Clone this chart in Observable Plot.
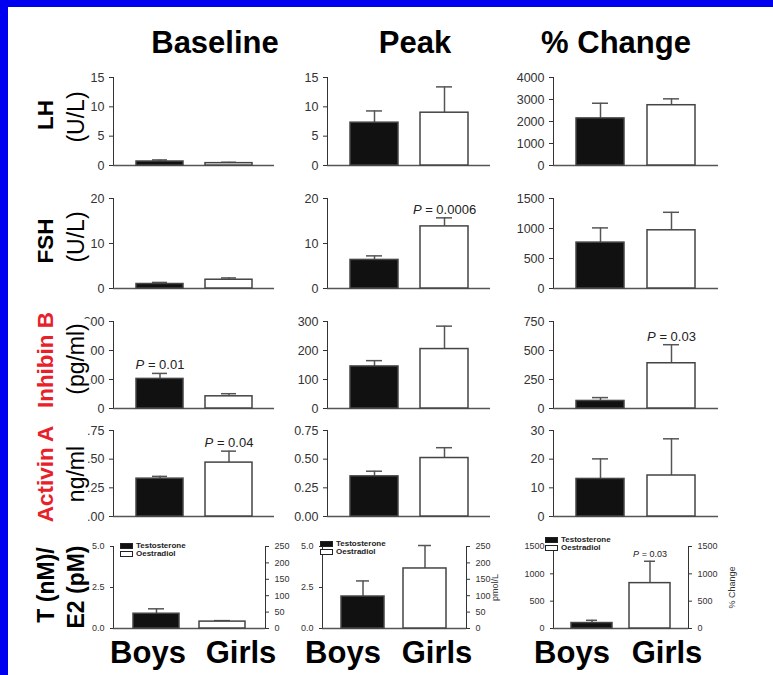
<!DOCTYPE html>
<html><head><meta charset="utf-8">
<script src="https://cdn.jsdelivr.net/npm/d3@7"></script>
<script src="https://cdn.jsdelivr.net/npm/@observablehq/plot@0.6"></script>
<style>
body{margin:0;background:#fff;}
#root{position:relative;width:773px;height:675px;overflow:hidden;background:#fff;font-family:"Liberation Sans",Arial,Helvetica,sans-serif;color:#000;}
.abs{position:absolute;white-space:nowrap;line-height:1;}
.rot{transform:translate(-50%,-50%) rotate(-90deg);}
.ctr{transform:translate(-50%,-50%);}
</style></head><body><div id="root"></div>
<script>
// ---------- data ----------
const groups = ["Boys", "Girls"];
const phases = ["Baseline", "Peak", "% Change"];
const hormoneNames = ["LH", "FSH", "Inhibin B", "Activin A"];
const hormoneUnits = ["(U/L)", "(U/L)", "(pg/ml)", "ng/ml"];
const hormoneColors = ["#000", "#000", "#e8202a", "#e8202a"];

const lhMean  = [[0.68, 0.40], [7.3, 9.0], [2140, 2740]];
const lhUpper = [[0.95, 0.55], [9.3, 13.4], [2830, 3030]];
const lhTicks = [[0, 5, 10, 15], [0, 5, 10, 15], [0, 1000, 2000, 3000, 4000]];
const lhP     = [[null, null], [null, null], [null, null]];

const fshMean  = [[1.0, 1.95], [6.35, 13.8], [765, 970]];
const fshUpper = [[1.35, 2.35], [7.25, 15.7], [1010, 1270]];
const fshTicks = [[0, 10, 20], [0, 10, 20], [0, 500, 1000, 1500]];
const fshP     = [[null, null], [null, "0.0006"], [null, null]];

const inhMean  = [[102, 42], [145, 205], [65, 390]];
const inhUpper = [[121, 51], [165, 284], [94, 550]];
const inhTicks = [[0, 100, 200, 300], [0, 100, 200, 300], [0, 250, 500, 750]];
const inhP     = [["0.01", null], [null, null], [null, "0.03"]];

const actMean  = [[0.33, 0.47], [0.35, 0.51], [13.1, 14.3]];
const actUpper = [[0.35, 0.57], [0.395, 0.60], [20.1, 27.1]];
const actTicks = [[0, 0.25, 0.5, 0.75], [0, 0.25, 0.5, 0.75], [0, 10, 20, 30]];
const actP     = [[null, "0.04"], [null, null], [null, null]];

// T (boys, testosterone) / E2 (girls, oestradiol)
const teLabels = ["T (nM)/", "E2 (pM)"];
const legendLabels = ["Testosterone", "Oestradiol"];
const tMean   = [0.9, 1.95, 100];
const tUpper  = [1.2, 2.9, 150];
const e2Mean  = [21, 183, 830];
const e2Upper = [24, 253, 1230];
const tTicks  = [[0, 2.5, 5], [0, 2.5, 5], [0, 500, 1000, 1500]];
const e2Ticks = [[0, 50, 100, 150, 200, 250], [0, 50, 100, 150, 200, 250], [0, 500, 1000, 1500]];
const e2AxisLabels = [null, "pmol/L", "% Change"];
const teP = [[null, null], [null, null], [null, "0.03"]];

// ---------- layout ----------
const FONT = '"Liberation Sans", Arial, Helvetica, sans-serif';
const root = document.getElementById("root");
const colGeom = [{x0: 113, x1: 274}, {x0: 327, x1: 490}, {x0: 553, x1: 718}];
const rowGeom = [{top: 77, zero: 165}, {top: 198, zero: 288}, {top: 321, zero: 408}, {top: 430, zero: 516}];
const row5Col = [{x0: 113, x1: 265}, {x0: 322, x1: 466}, {x0: 553, x1: 688}];
const row5 = {top: 546, zero: 628};
const e2LabelOffset = [30, 31, 46];

function div(html, x, y, css, cls = "ctr") {
  const d = document.createElement("div");
  d.className = "abs " + cls;
  d.style.left = x + "px"; d.style.top = y + "px";
  Object.assign(d.style, css || {});
  d.innerHTML = html;
  root.appendChild(d);
  return d;
}

function italicP(svg) {
  svg.querySelectorAll("text").forEach(t => {
    const s = t.textContent;
    if (s.startsWith("P = ")) {
      t.textContent = "";
      const a = document.createElementNS("http://www.w3.org/2000/svg", "tspan");
      a.setAttribute("font-style", "italic"); a.textContent = "P";
      const b = document.createElementNS("http://www.w3.org/2000/svg", "tspan");
      b.textContent = s.slice(1);
      t.append(a, b);
    }
  });
}

function makePlot(o) {
  const mt = 16, mb = 8;
  const width = o.ml + (o.x1 - o.x0) + o.mr;
  const height = mt + (o.zero - o.top) + mb;
  const marks = [];
  if (o.baseline) marks.push(Plot.ruleY([0], {stroke: "#555", strokeWidth: 1.5}));
  if (o.rows.length) {
    marks.push(Plot.ruleX(o.rows, {x: "group", y1: "mean", y2: "upper", stroke: "#555", strokeWidth: 1.5}));
    marks.push(Plot.tickY(o.rows, {x: "group", y: "upper", stroke: "#555", strokeWidth: 1.5, inset: o.capInset}));
    marks.push(Plot.barY(o.rows, {x: "group", y: "mean", fill: "group", stroke: "#444", strokeWidth: 1.5}));
  }
  if (o.pRows.length) marks.push(Plot.text(o.pRows, {x: "group", y: "upper", text: d => "P = " + d.p, dy: -4, lineAnchor: "bottom", fontSize: o.pSize, fill: "#222"}));
  const svg = Plot.plot({
    width, height, marginLeft: o.ml, marginRight: o.mr, marginTop: mt, marginBottom: mb,
    style: {background: "transparent", fontFamily: FONT, fontSize: o.fontSize + "px", color: "#333", overflow: "visible"},
    x: {domain: groups, padding: o.padding, axis: null},
    y: {domain: [0, o.ticks[o.ticks.length - 1]], ticks: o.ticks, tickFormat: o.fmt, axis: o.anchor, line: true,
        tickSize: o.tickSize, label: o.label, labelAnchor: "center", labelOffset: o.labelOffset || 30, labelArrow: false},
    color: {domain: groups, range: ["#111", "#fff"]},
    marks
  });
  italicP(svg);
  svg.style.position = "absolute";
  svg.style.left = (o.x0 - o.ml) + "px";
  svg.style.top = (o.top - mt) + "px";
  root.appendChild(svg);
}

const hormones = [
  [lhMean, lhUpper, lhTicks, lhP],
  [fshMean, fshUpper, fshTicks, fshP],
  [inhMean, inhUpper, inhTicks, inhP],
  [actMean, actUpper, actTicks, actP]
];

hormones.forEach(([mean, upper, ticks, pv], r) => {
  phases.forEach((ph, c) => {
    const rows = groups.map((g, i) => ({group: g, mean: mean[c][i], upper: upper[c][i]}));
    const pRows = groups.map((g, i) => ({group: g, upper: upper[c][i], p: pv[c][i]})).filter(d => d.p);
    const isFrac = ticks[c].some(t => !Number.isInteger(t));
    makePlot({
      ...colGeom[c], ...rowGeom[r], ml: 52, mr: 6, ticks: ticks[c],
      fmt: isFrac ? d3.format(".2f") : d3.format("d"), anchor: "left",
      rows, pRows, fontSize: 12.5, tickSize: 4, capInset: 16, padding: 0.32,
      baseline: true, label: null, pSize: 13
    });
  });
});

// T / E2 row: dual axes
phases.forEach((ph, c) => {
  const g = row5Col[c];
  const common = {...g, ...row5, ml: 52, mr: 45, fontSize: 9, tickSize: 3, capInset: 15, padding: 0.3, pSize: 9};
  makePlot({
    ...common, ticks: tTicks[c], fmt: c < 2 ? d3.format(".1f") : d3.format("d"), anchor: "left",
    rows: [{group: groups[0], mean: tMean[c], upper: tUpper[c]}],
    pRows: teP[c][0] ? [{group: groups[0], upper: tUpper[c], p: teP[c][0]}] : [],
    baseline: true, label: null
  });
  makePlot({
    ...common, ticks: e2Ticks[c], fmt: d3.format("d"), anchor: "right",
    rows: [{group: groups[1], mean: e2Mean[c], upper: e2Upper[c]}],
    pRows: teP[c][1] ? [{group: groups[1], upper: e2Upper[c], p: teP[c][1]}] : [],
    baseline: false, label: e2AxisLabels[c], labelOffset: e2LabelOffset[c]
  });
});

// legends in T/E2 panels
const legendPos = [{x: 120, y: 543}, {x: 320, y: 541}, {x: 545, y: 537}];
legendPos.forEach(p => {
  legendLabels.forEach((lab, i) => {
    const box = document.createElement("div");
    box.className = "abs";
    Object.assign(box.style, {left: p.x + "px", top: (p.y + i * 8) + "px", width: "13px", height: "6px",
      background: i === 0 ? "#111" : "#fff", border: "1px solid #222", boxSizing: "border-box"});
    root.appendChild(box);
    div(lab, p.x + 16, p.y + i * 8 - 1, {fontSize: "8px", fontWeight: "bold", color: "#222"}, "");
  });
});

// ---------- text ----------
// border
div("", 0, 0, {width: "773px", height: "7px", background: "#0000f0"}, "");
div("", 0, 0, {width: "8px", height: "675px", background: "#0000f0"}, "");

const titleX = [215, 415, 616];
phases.forEach((p, i) => div(p, titleX[i], 42, {fontSize: "31px", fontWeight: "bold"}));

const groupX = [[148, 241], [343, 437], [572, 667]];
groupX.forEach(xs => xs.forEach((x, i) => div(groups[i], x, 652, {fontSize: "31px", fontWeight: "bold"})));

const nameY = [115, 241, 360, 474];
const unitY = [117, 237, 359, 474];
const unitX = [77, 77, 77, 75.5];
const unitPad = ["1px 4px 2px 4px", "1px 4px 2px 4px", "1px 4px 2px 4px", "0 24px 0 24px"];
hormoneNames.forEach((n, i) => {
  div(n, 46, nameY[i], {fontSize: "22.5px", fontWeight: "bold", color: hormoneColors[i], background: "#fff", padding: "2px 4px"}, "rot");
  div(hormoneUnits[i], unitX[i], unitY[i], {fontSize: "23px", background: "#fff", padding: unitPad[i]}, "rot");
});
div(teLabels[0], 46, 585, {fontSize: "23px", fontWeight: "bold"}, "rot");
div(teLabels[1], 76, 587, {fontSize: "23px", fontWeight: "bold"}, "rot");
</script></body></html>
